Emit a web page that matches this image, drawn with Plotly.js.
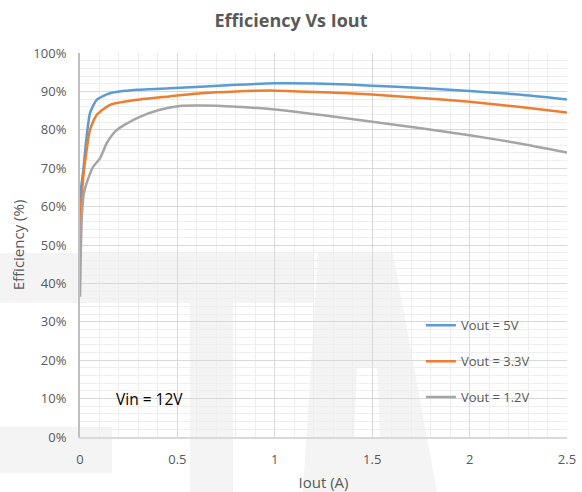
<!DOCTYPE html>
<html>
<head>
<meta charset="utf-8">
<script src="https://cdn.plot.ly/plotly-3.0.1.min.js"></script>
<style>html,body{margin:0;padding:0;background:#fff;}#chart{width:582px;height:492px;}</style>
</head>
<body>
<div id="chart"></div>
<script>
// Data (Iout in A, efficiency in %)
const seriesNames = ["Vout = 5V", "Vout = 3.3V", "Vout = 1.2V"];
const seriesColors = ["#5b9bd5", "#ed7d31", "#a5a5a5"];

const iout5V = [0, 0.006, 0.017, 0.034, 0.051, 0.086, 0.154, 0.29, 0.46, 0.62, 0.8, 1.0, 1.25, 1.5, 1.75, 2.0, 2.25, 2.5];
const eff5V  = [61, 65, 69.5, 78.2, 84.3, 87.8, 89.5, 90.4, 90.8, 91.2, 91.7, 92.1, 92.0, 91.5, 90.9, 90.1, 89.2, 87.9];

const iout33V = [0, 0.006, 0.017, 0.034, 0.051, 0.086, 0.154, 0.29, 0.46, 0.62, 0.8, 1.0, 1.25, 1.5, 1.75, 2.0, 2.25, 2.5];
const eff33V  = [52, 60, 67.8, 74.7, 80, 83.9, 86.5, 87.8, 88.7, 89.5, 90.0, 90.2, 89.8, 89.2, 88.3, 87.3, 86.0, 84.5];

const iout12V = [0, 0.004, 0.01, 0.02, 0.043, 0.068, 0.103, 0.137, 0.188, 0.29, 0.41, 0.513, 0.62, 0.8, 1.0, 1.25, 1.5, 1.75, 2.0, 2.25, 2.5];
const eff12V  = [36.5, 48, 58, 63.5, 67.4, 70.4, 72.6, 76.5, 79.9, 83, 85.2, 86.2, 86.3, 86.0, 85.3, 83.8, 82.1, 80.4, 78.6, 76.5, 74.1];

const xTickVals = [0, 0.5, 1, 1.5, 2, 2.5];
const xTickText = ["0", "0.5", "1", "1.5", "2", "2.5"];
const yTickVals = [0, 10, 20, 30, 40, 50, 60, 70, 80, 90, 100];
const yTickText = ["0%", "10%", "20%", "30%", "40%", "50%", "60%", "70%", "80%", "90%", "100%"];

const xs = [iout5V, iout33V, iout12V];
const ys = [eff5V, eff33V, eff12V];

const FONT = "Open Sans, Liberation Sans, DejaVu Sans, sans-serif";
const GREY = "#595959";

// Faint background watermark (decorative), drawn in paper coordinates
const ML = 80, MT = 53, PW = 487, PH = 384;
function px(x) { return ((x - ML) / PW).toFixed(4); }
function py(y) { return ((MT + PH - y) / PH).toFixed(4); }
function poly(pts) { return "M" + pts.map(p => px(p[0]) + "," + py(p[1])).join(" L") + " Z"; }
const WM = "#f4f4f4";
const wmShapes = [
  poly([[0,253],[313,253],[313,303],[0,303]]),
  poly([[190,303],[233,303],[233,492],[190,492]]),
  poly([[0,427],[112,427],[112,473],[0,473]]),
  poly([[318,253],[393,253],[437,492],[303,492]])
].map(p => ({type: "path", path: p, xref: "paper", yref: "paper", fillcolor: WM, line: {width: 0}, layer: "below"}));
wmShapes.push({type: "path", path: poly([[357,367],[377,367],[380,437],[354,437]]), xref: "paper", yref: "paper",
  fillcolor: "#ffffff", line: {width: 0}, layer: "below"});

const traces = seriesNames.map((n, i) => ({
  x: xs[i], y: ys[i], name: n, type: "scatter", mode: "lines",
  line: {color: seriesColors[i], width: 2.5, shape: "spline", smoothing: 0.6},
  legendgroup: "g" + i, hoverinfo: "x+y"
}));

const layout = {
  width: 582, height: 492,
  margin: {l: 80, r: 15, t: 53, b: 55},
  paper_bgcolor: "#ffffff", plot_bgcolor: "rgba(0,0,0,0)",
  font: {family: FONT, color: GREY, size: 13},
  title: {text: "<b>Efficiency Vs Iout</b>", x: 0.5, xref: "container", y: 0.958, yanchor: "middle",
          font: {family: FONT, size: 18, color: GREY}},
  xaxis: {
    range: [0, 2.5], tickvals: xTickVals, ticktext: xTickText,
    showgrid: true, gridcolor: "#d9d9d9", gridwidth: 1,
    minor: {dtick: 0.1, showgrid: true, gridcolor: "#eeeeee", gridwidth: 1},
    showline: true, linecolor: "#d9d9d9", linewidth: 1.5,
    zeroline: false, ticks: "", ticklen: 0, ticklabelstandoff: 10,
    tickfont: {family: FONT, size: 13, color: GREY},
    title: {text: "Iout (A)", font: {family: FONT, size: 15, color: GREY}, standoff: 10}
  },
  yaxis: {
    range: [0, 100], tickvals: yTickVals, ticktext: yTickText,
    showgrid: true, gridcolor: "#d9d9d9", gridwidth: 1,
    minor: {dtick: 2, showgrid: true, gridcolor: "#eeeeee", gridwidth: 1},
    showline: true, linecolor: "#bfbfbf", linewidth: 2,
    zeroline: false, ticks: "", ticklen: 0, ticklabelstandoff: 9,
    tickfont: {family: FONT, size: 13, color: GREY},
    title: {text: "Efficiency (%)", font: {family: FONT, size: 15, color: GREY}, standoff: 5}
  },
  showlegend: true,
  legend: {
    x: 0.70, y: 0.33, xanchor: "left", yanchor: "top",
    bgcolor: "rgba(0,0,0,0)", borderwidth: 0,
    font: {family: FONT, size: 13, color: GREY},
    traceorder: "grouped", tracegroupgap: 16, itemwidth: 30
  },
  shapes: wmShapes,
  annotations: [{
    x: 0.359, y: 9.9, xref: "x", yref: "y", text: "Vin = 12V", showarrow: false,
    font: {family: FONT, size: 15.5, color: "#000000"}
  }]
};

Plotly.newPlot("chart", traces, layout, {displayModeBar: false, staticPlot: true});
</script>
</body>
</html>
